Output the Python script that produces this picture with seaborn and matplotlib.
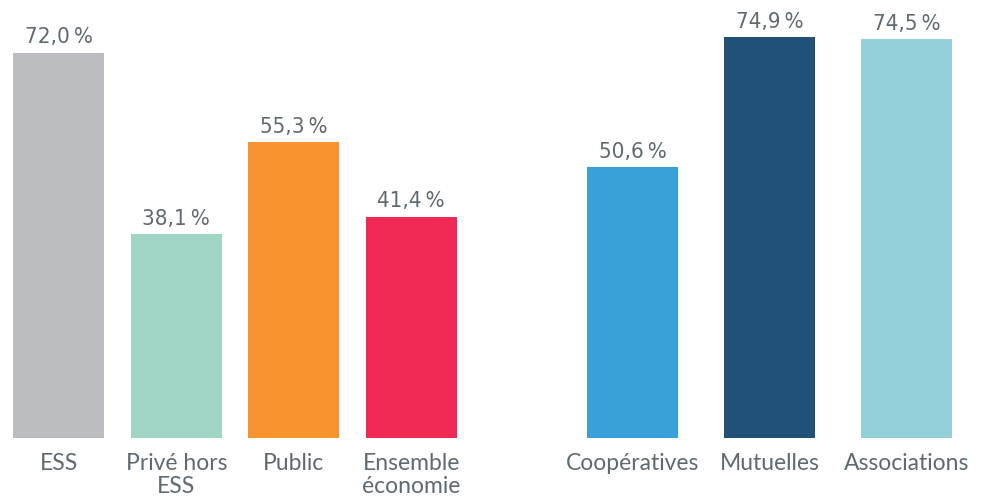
"""
Bar chart: share by sector (ESS vs others, and ESS families)
"""

import matplotlib
matplotlib.use('Agg')
import matplotlib.pyplot as plt
import seaborn as sns
import pandas as pd

sns.set_style("white")

# Data
left_labels = ['ESS', 'Privé hors\nESS', 'Public', 'Ensemble\néconomie']
left_values = [72.0, 38.1, 55.3, 41.4]
left_colors = ['#bcbdc1', '#a0d5c5', '#f7932e', '#ef2953']

right_labels = ['Coopératives', 'Mutuelles', 'Associations']
right_values = [50.6, 74.9, 74.5]
right_colors = ['#37a0d8', '#1f5179', '#93cfd9']

TEXT = '#5f6a70'
LABEL_FONT = ['Lato', 'DejaVu Sans']

W, H = 981, 498
fig = plt.figure(figsize=(W / 100, H / 100), dpi=100)

y_bottom = (H - 438) / H
y_top = (H - 10) / H
ax1 = fig.add_axes([0 / W, y_bottom, 470 / W, y_top - y_bottom])
ax2 = fig.add_axes([564 / W, y_bottom, 411 / W, y_top - y_bottom])


def draw(ax, labels, values, colors, width):
    df = pd.DataFrame({'cat': labels, 'val': values})
    sns.barplot(data=df, x='cat', y='val', hue='cat', palette=colors,
                width=width, saturation=1, legend=False, linewidth=0, ax=ax)
    ax.set_ylim(0, 80)
    ax.set_xlabel('')
    ax.set_ylabel('')
    ax.set_yticks([])
    for s in ax.spines.values():
        s.set_visible(False)
    ax.tick_params(axis='x', length=0, pad=11, colors=TEXT)
    for lab in ax.get_xticklabels():
        lab.set_fontfamily(LABEL_FONT)
        lab.set_fontweight('normal')
        lab.set_fontsize(16.5)
        lab.set_color(TEXT)
        lab.set_linespacing(1.1)
    for i, v in enumerate(values):
        ax.annotate(f'{v:.1f}'.replace('.', ',') + '\u2009%', (i, v),
                    xytext=(0, 4), textcoords='offset points',
                    ha='center', va='bottom', fontsize=16,
                    family='DejaVu Sans', fontstretch='condensed',
                    color=TEXT)


draw(ax1, left_labels, left_values, left_colors, 0.775)
draw(ax2, right_labels, right_values, right_colors, 0.664)

plt.savefig('out.png', dpi=100)
plt.close()
